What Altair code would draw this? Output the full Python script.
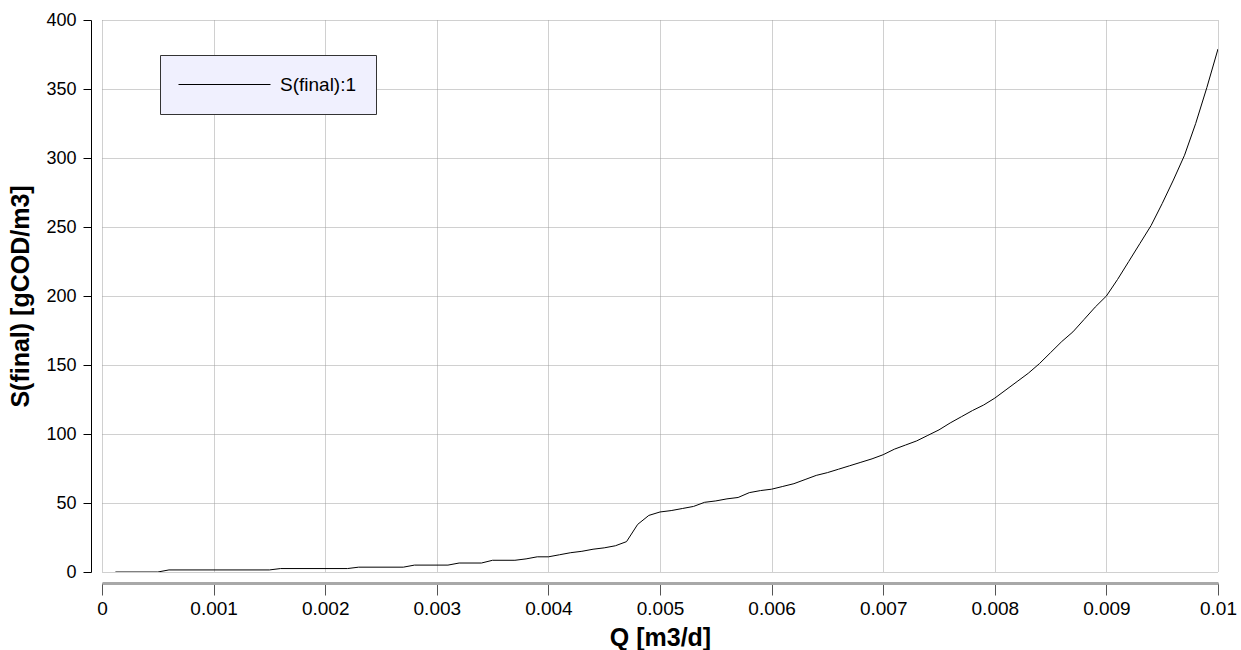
import altair as alt
import pandas as pd

q = [0.00012, 0.0005, 0.0006, 0.0015, 0.0016, 0.0022, 0.0023, 0.0027, 0.0028, 0.0031,
     0.0032, 0.0034, 0.0035, 0.0037, 0.0038, 0.0039, 0.0040, 0.0041, 0.0042, 0.0043,
     0.0044, 0.0045, 0.0046, 0.0047, 0.0048, 0.0049, 0.0050, 0.0051, 0.0052, 0.0053,
     0.0054, 0.0055, 0.0056, 0.0057, 0.0058, 0.0059, 0.0060, 0.0061, 0.0062, 0.0063,
     0.0064, 0.0065, 0.0066, 0.0067, 0.0068, 0.0069, 0.0070, 0.0071, 0.0072, 0.0073,
     0.0074, 0.0075, 0.0076, 0.0077, 0.0078, 0.0079, 0.0080, 0.0081, 0.0082, 0.0083,
     0.0084, 0.0085, 0.0086, 0.0087, 0.0088, 0.0089, 0.0090, 0.0091, 0.0092, 0.0093,
     0.0094, 0.0095, 0.0096, 0.0097, 0.0098, 0.0099, 0.0100]
s = [0, 0, 1.5, 1.5, 2.5, 2.5, 3.5, 3.5, 5, 5,
     6.5, 6.5, 8.5, 8.5, 9.5, 11, 11, 12.5, 14, 15,
     16.5, 17.5, 19, 22, 34.5, 41, 43.5, 44.5, 46, 47.5,
     50.5, 51.5, 53, 54, 57.5, 59, 60, 62, 64, 67,
     70, 72, 74.5, 77, 79.5, 82, 85, 89, 92, 95,
     99, 103, 108, 112.5, 117, 121, 126, 132, 138, 144,
     151, 159, 167, 174, 183, 192, 200, 212, 225, 238,
     251, 267, 284, 302, 325, 351, 379]
series_name = "S(final):1"

x_ticks = [0, 0.001, 0.002, 0.003, 0.004, 0.005, 0.006, 0.007, 0.008, 0.009, 0.01]
y_ticks = [0, 50, 100, 150, 200, 250, 300, 350, 400]

df = pd.DataFrame({"Q": q, "S": s, "series": [series_name] * len(q)})

font = "Liberation Sans"

chart = alt.Chart(df).mark_line(strokeWidth=1, clip=True).encode(
    x=alt.X("Q:Q",
            scale=alt.Scale(domain=[0, 0.01], nice=False, zero=False),
            axis=alt.Axis(title="Q [m3/d]", values=x_ticks, format="~g",
                          offset=11, domainColor="#a8a8a8", domainWidth=3,
                          tickColor="#555555", tickSize=12, tickWidth=1,
                          labelPadding=4, labelFontSize=19, labelColor="#000000",
                          titleFontSize=25, titleFontWeight="bold", titleColor="#000000",
                          titlePadding=7, labelFlush=False,
                          grid=True, gridColor="#a0a0a0", gridDash=[1, 1], gridWidth=1)),
    y=alt.Y("S:Q",
            scale=alt.Scale(domain=[0, 400], nice=False),
            axis=alt.Axis(title="S(final) [gCOD/m3]", values=y_ticks,
                          offset=11, domainColor="#000000", domainWidth=1,
                          tickColor="#000000", tickSize=8, tickWidth=1,
                          labelPadding=7, labelFontSize=18, labelColor="#000000",
                          titleFontSize=25, titleFontWeight="bold", titleColor="#000000",
                          titlePadding=12,
                          grid=True, gridColor="#a0a0a0", gridDash=[1, 1], gridWidth=1)),
    color=alt.Color("series:N",
                    scale=alt.Scale(range=["#000000"]),
                    legend=alt.Legend(title=None, orient="none", legendX=58, legendY=35,
                                      symbolType="M-1.1,0H8.1", symbolSize=400,
                                      symbolStrokeWidth=1, symbolStrokeColor="#000000",
                                      labelOffset=80, labelFontSize=19, labelFont=font,
                                      labelColor="#000000",
                                      fillColor="#f0f0fe", strokeColor="#333333",
                                      padding=19, cornerRadius=0)),
).properties(
    width=1116, height=552,
    autosize=alt.AutoSizeParams(type="none"),
    padding={"left": 102, "top": 20, "right": 23, "bottom": 78},
).configure(font=font).configure_view(stroke=None).configure_axis(
    labelFont=font, titleFont=font
)

chart.save("out.html", embed_options={"renderer": "svg", "actions": False})
